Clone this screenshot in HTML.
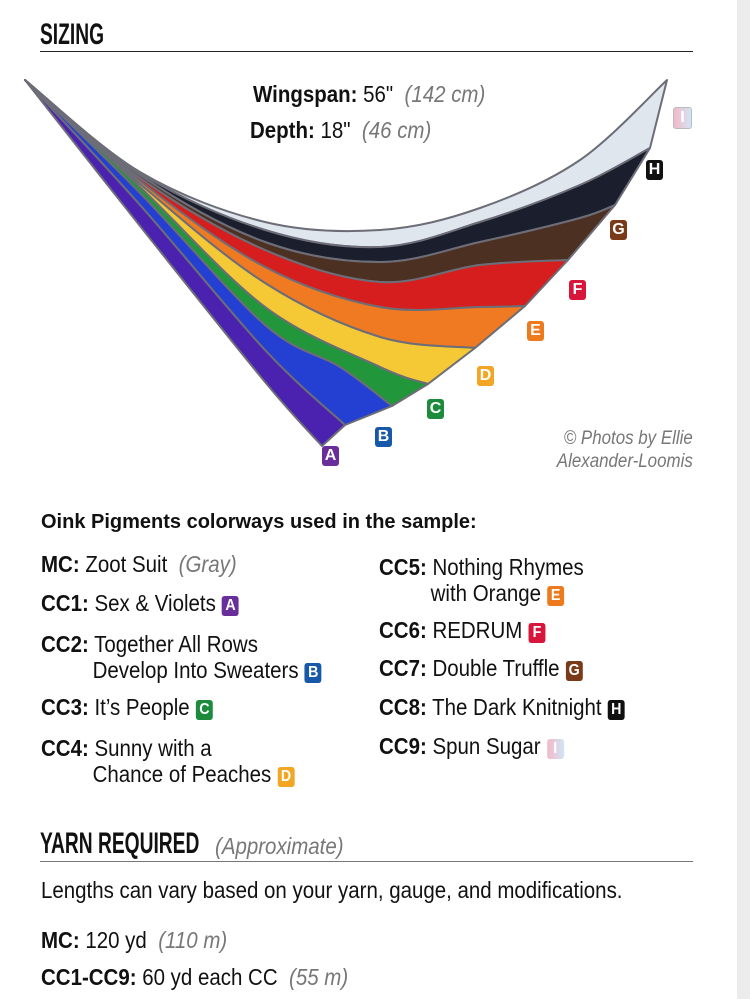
<!DOCTYPE html>
<html><head><meta charset="utf-8"><style>
body{margin:0;width:750px;height:999px;background:#fff;position:relative;overflow:hidden;font-family:"Liberation Sans",sans-serif;color:#111}
.a{position:absolute;white-space:nowrap;line-height:1}
.h{font-weight:bold;font-size:30px;transform:scaleX(0.64);transform-origin:left}
.t{font-size:23px;transform:scaleX(0.89);transform-origin:left}
b{font-weight:bold}
i{color:#777}
.bd{display:inline-block;width:19px;height:20px;border-radius:3px;color:#fff;font-weight:bold;font-size:16px;text-align:center;line-height:20px;vertical-align:1px;margin-left:7px}
.strip{position:absolute;left:737px;top:0;width:13px;height:999px;background:#ececec}
</style></head><body>
<div class="strip"></div>
<div class="a h" style="left:40px;top:20px">SIZING</div>
<div class="a" style="left:40px;top:51px;width:653px;height:1px;background:#222"></div>

<svg class="a" style="left:0;top:0" width="750" height="480">
<g id="sh" stroke="#6d6d78" stroke-width="2" stroke-linejoin="round">
<path d="M25,80 L140,172 265,222 380,230 480,208 580,160 667,80 L650,148 580,185 480,222 380,247 265,230 140,173Z" fill="#dfe6ee"/>
<path d="M25,80 L140,173 265,230 380,247 480,222 580,185 650,148 L615,205 580,218 480,242 380,262 265,242 140,175Z" fill="#1b1e2c"/>
<path d="M25,80 L140,175 265,242 380,262 480,242 580,218 615,205 L568,260 480,265 380,282 265,250 140,178Z" fill="#4c3122"/>
<path d="M25,80 L140,178 265,250 380,282 480,265 568,260 L525,306 480,307 380,307 265,267 140,181Z" fill="#d61e1e"/>
<path d="M25,80 L140,181 265,267 380,307 480,307 525,306 L475,348 380,337 265,283 140,184Z" fill="#f07a22"/>
<path d="M25,80 L140,184 265,283 380,337 475,348 L428,384 380,367 265,307 140,187Z" fill="#f5c935"/>
<path d="M25,80 L140,187 265,307 380,367 428,384 L392,406 340,367 265,325 140,193Z" fill="#22963a"/>
<path d="M25,80 L140,193 265,325 340,367 392,406 L345,425 265,350 140,205Z" fill="#2340d2"/>
<path d="M25,80 L140,205 265,350 345,425 L322,446 265,382 140,226Z" fill="#4b22b0"/>
</g>
</svg>
<script>
(function(){
var B=[
[[25,80],[140,172],[265,222],[380,230],[480,208],[580,160],[667,80]],
[[25,80],[140,173],[265,230],[380,247],[480,222],[580,185],[650,148]],
[[25,80],[140,175],[265,242],[380,262],[480,242],[580,218],[615,205]],
[[25,80],[140,178],[265,250],[380,282],[480,265],[568,260]],
[[25,80],[140,181],[265,267],[380,307],[480,307],[525,306]],
[[25,80],[140,184],[265,283],[380,337],[475,348]],
[[25,80],[140,187],[265,307],[380,367],[428,384]],
[[25,80],[140,193],[265,325],[340,367],[392,406]],
[[25,80],[140,205],[265,350],[345,425]],
[[25,80],[140,226],[265,382],[322,446]]];
function cr(p){var d='';for(var i=0;i<p.length-1;i++){var a=p[i-1]||p[i],b=p[i],c=p[i+1],e=p[i+2]||c;
var c1=[b[0]+(c[0]-a[0])/6,b[1]+(c[1]-a[1])/6],c2=[c[0]-(e[0]-b[0])/6,c[1]-(e[1]-b[1])/6];
d+=' C'+c1.join(',')+' '+c2.join(',')+' '+c.join(',');}return d;}
var ps=document.getElementById('sh').getElementsByTagName('path');
for(var k=0;k<9;k++){var top=B[k],bot=B[k+1].slice().reverse();
ps[k].setAttribute('d','M'+top[0].join(',')+cr(top)+' L'+bot[0].join(',')+cr(bot)+'Z');}
})();
</script>
<div class="a t" style="left:253px;top:83px"><b>Wingspan:</b> 56" &nbsp;<i>(142 cm)</i></div>
<div class="a t" style="left:250px;top:119px"><b>Depth:</b> 18" &nbsp;<i>(46 cm)</i></div>
<div class="a" style="left:673px;top:107px"><span class="bd" style="margin:0;width:17px;background:linear-gradient(90deg,#f4b8c8,#cfe6f5);border:1px solid #bbb">I</span></div>
<div class="a" style="left:646px;top:160px"><span class="bd" style="margin:0;width:17px;background:#111">H</span></div>
<div class="a" style="left:610px;top:220px"><span class="bd" style="margin:0;width:17px;background:#7a3a1a">G</span></div>
<div class="a" style="left:569px;top:280px"><span class="bd" style="margin:0;width:17px;background:#d8163c">F</span></div>
<div class="a" style="left:527px;top:321px"><span class="bd" style="margin:0;width:17px;background:#ee7a1e">E</span></div>
<div class="a" style="left:477px;top:366px"><span class="bd" style="margin:0;width:17px;background:#f2a623">D</span></div>
<div class="a" style="left:427px;top:399px"><span class="bd" style="margin:0;width:17px;background:#1c8c3c">C</span></div>
<div class="a" style="left:375px;top:427px"><span class="bd" style="margin:0;width:17px;background:#1858a8">B</span></div>
<div class="a" style="left:322px;top:446px"><span class="bd" style="margin:0;width:17px;background:#6a2e9a">A</span></div>
<div class="a" style="right:57px;top:427px;font-size:19px;font-style:italic;color:#777;text-align:right;line-height:23px;transform:scaleX(0.89);transform-origin:right">© Photos by Ellie<br>Alexander-Loomis</div>

<div class="a" style="left:41px;top:512px;font-weight:bold;font-size:20px">Oink Pigments colorways used in the sample:</div>

<div class="a t" style="left:41px;top:553px"><b>MC:</b> Zoot Suit &nbsp;<i>(Gray)</i></div>
<div class="a t" style="left:41px;top:592px"><b>CC1:</b> Sex &amp; Violets<span class="bd" style="background:#6a2e9a">A</span></div>
<div class="a t" style="left:41px;top:631px;line-height:26px"><b>CC2:</b> Together All Rows<br><span style="padding-left:58px">Develop Into Sweaters</span><span class="bd" style="background:#1858a8">B</span></div>
<div class="a t" style="left:41px;top:696px"><b>CC3:</b> It’s People<span class="bd" style="background:#1c8c3c">C</span></div>
<div class="a t" style="left:41px;top:735px;line-height:26px"><b>CC4:</b> Sunny with a<br><span style="padding-left:58px">Chance of Peaches</span><span class="bd" style="background:#f2a623">D</span></div>

<div class="a t" style="left:379px;top:554px;line-height:26px"><b>CC5:</b> Nothing Rhymes<br><span style="padding-left:58px">with Orange</span><span class="bd" style="background:#ee7a1e">E</span></div>
<div class="a t" style="left:379px;top:619px"><b>CC6:</b> REDRUM<span class="bd" style="background:#d8163c">F</span></div>
<div class="a t" style="left:379px;top:657px"><b>CC7:</b> Double Truffle<span class="bd" style="background:#7a3a1a">G</span></div>
<div class="a t" style="left:379px;top:696px"><b>CC8:</b> The Dark Knitnight<span class="bd" style="background:#111">H</span></div>
<div class="a t" style="left:379px;top:735px"><b>CC9:</b> Spun Sugar<span class="bd" style="background:linear-gradient(90deg,#f4b8c8,#cfe6f5)">I</span></div>

<div class="a h" style="left:40px;top:829px">YARN REQUIRED</div>
<div class="a t" style="left:215px;top:835px"><i>(Approximate)</i></div>
<div class="a" style="left:40px;top:861px;width:653px;height:1px;background:#777"></div>
<div class="a t" style="left:41px;top:879px">Lengths can vary based on your yarn, gauge, and modifications.</div>
<div class="a t" style="left:41px;top:929px"><b>MC:</b> 120 yd &nbsp;<i>(110 m)</i></div>
<div class="a t" style="left:41px;top:966px"><b>CC1-CC9:</b> 60 yd each CC &nbsp;<i>(55 m)</i></div>
</body></html>
